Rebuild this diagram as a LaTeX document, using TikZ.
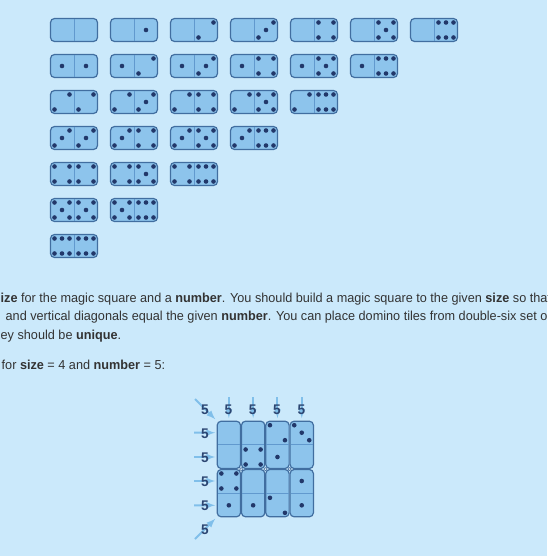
\documentclass[tikz,border=0pt]{standalone}
\usepackage{fontspec}
\setmainfont{Liberation Sans}[FakeStretch=0.975]
\definecolor{pagebg}{HTML}{CBE9FB}
\definecolor{tilefill}{HTML}{8DC4EC}
\definecolor{tileedge}{HTML}{416EA0}
\definecolor{tileline}{HTML}{6199CE}
\definecolor{pipcol}{HTML}{22386A}
\definecolor{textcol}{HTML}{333333}
\definecolor{sumcol}{HTML}{2C4672}
\definecolor{hintcol}{HTML}{80BFEA}

% pips of one half: centre, count, rotation
\newcommand{\pips}[3]{%
  \begin{scope}[shift={(#1)}, rotate=#3]
    \ifcase#2\relax
    \or \fill[pip] (0,0) circle[radius=2.3pt];
    \or \fill[pip] (7.5,-7.5) circle[radius=2.3pt] (-7.5,7.5) circle[radius=2.3pt];
    \or \fill[pip] (7.5,-7.5) circle[radius=2.3pt] (0,0) circle[radius=2.3pt]
                   (-7.5,7.5) circle[radius=2.3pt];
    \or \fill[pip] (-7.5,-7.5) circle[radius=2.3pt] (7.5,-7.5) circle[radius=2.3pt]
                   (-7.5,7.5) circle[radius=2.3pt] (7.5,7.5) circle[radius=2.3pt];
    \or \fill[pip] (-7.5,-7.5) circle[radius=2.3pt] (7.5,-7.5) circle[radius=2.3pt]
                   (0,0) circle[radius=2.3pt]
                   (-7.5,7.5) circle[radius=2.3pt] (7.5,7.5) circle[radius=2.3pt];
    \or \fill[pip] (-7.5,-7.5) circle[radius=2.3pt] (0,-7.5) circle[radius=2.3pt]
                   (7.5,-7.5) circle[radius=2.3pt]
                   (-7.5,7.5) circle[radius=2.3pt] (0,7.5) circle[radius=2.3pt]
                   (7.5,7.5) circle[radius=2.3pt];
    \fi
  \end{scope}}

\begin{document}
\begin{tikzpicture}
    [
        x=1pt, y=-1pt,
        tile/.style={rectangle, rounded corners=4pt, draw=tileedge, fill=tilefill,
                     line width=1.2pt, inner sep=0pt, minimum width=47pt, minimum height=23pt},
        tall/.style={tile, minimum width=23.3pt, minimum height=47.3pt},
        split/.style={draw=tileline, line width=0.9pt, shorten <=1pt, shorten >=1pt},
        pip/.style={fill=pipcol},
        joint/.style={circle, draw=tileedge, fill=white, line width=0.6pt,
                      inner sep=0pt, minimum size=3pt},
        hint/.style={-latex, draw=hintcol, line width=2pt},
        sumlabel/.style={text=sumcol, font=\bfseries\fontsize{14}{14}\selectfont, inner sep=0pt},
        para/.style={anchor=base west, inner sep=0pt, text=textcol,
                     font=\fontsize{13}{19}\selectfont},
    ]
    \fill[pagebg] (0,0) rectangle (547,556);
    \useasboundingbox (0,0) rectangle (547,556);
    \clip (0,0) rectangle (547,556);

    % double-six set
    \foreach \j in {0,...,6} {
        \foreach \k in {\j,...,6} {
            \pgfmathtruncatemacro\col{\k-\j}
            \node (d\j\k) at ({74+60*\col},{30+36*\j}) [tile] {};
            \draw [split] (d\j\k.north) -- (d\j\k.south);
            \pips{{62+60*\col},{30+36*\j}}{\j}{0}
            \pips{{86+60*\col},{30+36*\j}}{\k}{0}
        }
    }

    % text
    \node (l1) at (0.5,302)   [para] {\textbf{ize} for the magic square and a \textbf{number}. You should build a magic square to the given \textbf{size} so that};
    \node (l2) at (5.5,320.7) [para] {and vertical diagonals equal the given \textbf{number}. You can place domino tiles from double-six set or};
    \node (l3) at (0.5,339.5) [para] {ey should be \textbf{unique}.};
    \node (l4) at (1.5,369.3) [para] {for \textbf{size} = 4 and \textbf{number} = 5:};

    % magic square
    \node (m00) at (228.85,444.85) [tall] {};
    \node (m01) at (253.15,444.85) [tall] {};
    \node (m02) at (277.45,444.85) [tall] {};
    \node (m03) at (301.75,444.85) [tall] {};
    \node (m10) at (228.85,493.15) [tall] {};
    \node (m11) at (253.15,493.15) [tall] {};
    \node (m12) at (277.45,493.15) [tall] {};
    \node (m13) at (301.75,493.15) [tall] {};
    \foreach \m in {m00,m01,m02,m03,m10,m11,m12,m13}
        \draw [split] (\m.west) -- (\m.east);
    \pips{253.15,457.0}{4}{90}
    \pips{277.45,432.7}{2}{90}
    \pips{277.45,457.0}{1}{90}
    \pips{301.75,432.7}{3}{90}
    \pips{228.85,481.0}{4}{90}
    \pips{228.85,505.3}{1}{90}
    \pips{253.15,505.3}{1}{90}
    \pips{277.45,505.3}{2}{90}
    \pips{301.75,481.0}{1}{90}
    \pips{301.75,505.3}{1}{90}
    \node (j1) at (m00.south east) [joint] {};
    \node (j2) at (m01.south east) [joint] {};
    \node (j3) at (m02.south east) [joint] {};

    % hints
    \coordinate (a0) at (195,399);
    \coordinate (a1) at (228.85,397);
    \coordinate (a2) at (253.15,397);
    \coordinate (a3) at (277.45,397);
    \coordinate (a4) at (301.75,397);
    \coordinate (b1) at (194,432.7);
    \coordinate (b2) at (194,457.0);
    \coordinate (b3) at (194,481.0);
    \coordinate (b4) at (194,505.3);
    \coordinate (b5) at (195,539);
    \draw [hint, shorten >=2pt]   (a0) -- (m00.north west);
    \draw [hint, shorten >=2.5pt] (a1) -- (m00.north);
    \draw [hint, shorten >=2.5pt] (a2) -- (m01.north);
    \draw [hint, shorten >=2.5pt] (a3) -- (m02.north);
    \draw [hint, shorten >=2.5pt] (a4) -- (m03.north);
    \draw [hint, shorten >=1.5pt] (b1) -- ([yshift=12.15pt]m00.west);
    \draw [hint, shorten >=1.5pt] (b2) -- ([yshift=-12.15pt]m00.west);
    \draw [hint, shorten >=1.5pt] (b3) -- ([yshift=12.15pt]m10.west);
    \draw [hint, shorten >=1.5pt] (b4) -- ([yshift=-12.15pt]m10.west);
    \draw [hint, shorten >=2pt]   (b5) -- (m10.south west);

    % sums
    \node (s0) at (205,410)    [sumlabel] {5};
    \node (s1) at (228.4,410)  [sumlabel] {5};
    \node (s2) at (252.7,410)  [sumlabel] {5};
    \node (s3) at (277,410)    [sumlabel] {5};
    \node (s4) at (301.3,410)  [sumlabel] {5};
    \node (s5) at (205,433.3)  [sumlabel] {5};
    \node (s6) at (205,457.4)  [sumlabel] {5};
    \node (s7) at (205,481.6)  [sumlabel] {5};
    \node (s8) at (205,505.8)  [sumlabel] {5};
    \node (s9) at (205,529.5)  [sumlabel] {5};

\end{tikzpicture}
\end{document}
